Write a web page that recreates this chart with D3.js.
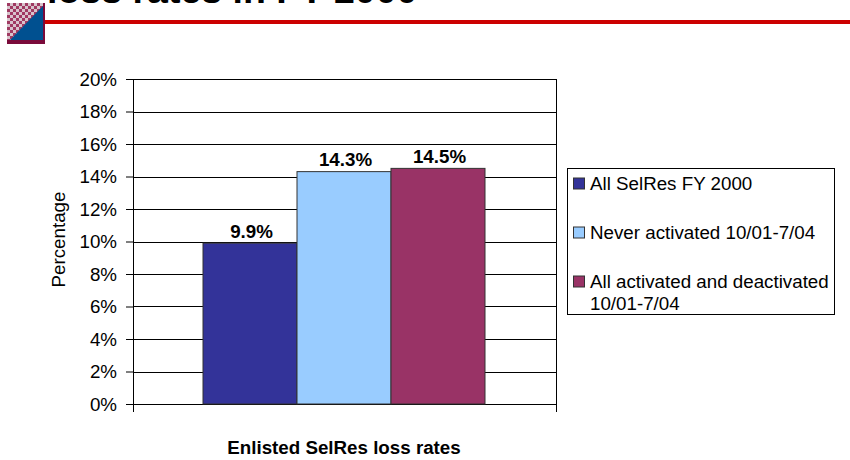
<!DOCTYPE html>
<html><head><meta charset="utf-8">
<script src="https://cdn.jsdelivr.net/npm/d3@7"></script>
<style>html,body{margin:0;padding:0;background:#fff}svg{display:block}text{font-family:"Liberation Sans",Arial,sans-serif;fill:#000}</style>
</head><body><div id="c"></div>
<script>
const categories=["All SelRes FY 2000","Never activated 10/01-7/04","All activated and deactivated 10/01-7/04"];
const values=[9.9,14.3,14.5];
const colors=["#333399","#99ccff","#993366"];
const valueLabels=["9.9%","14.3%","14.5%"];
const yTicks=[0,2,4,6,8,10,12,14,16,18,20];
const W=850,H=460;
const svg=d3.select("#c").append("svg").attr("width",W).attr("height",H);
const defs=svg.append("defs");
const pat=defs.append("pattern").attr("id","hatch").attr("width",6).attr("height",6).attr("patternUnits","userSpaceOnUse").attr("patternTransform","translate(7,3)");
pat.append("rect").attr("width",6).attr("height",6).attr("fill","#d8c4cc");
pat.append("rect").attr("width",3).attr("height",3).attr("fill","#a03a62");
pat.append("rect").attr("x",3).attr("y",3).attr("width",3).attr("height",3).attr("fill","#a03a62");

// header
svg.append("text").attr("x",47).attr("y",3).attr("font-size",37.5).attr("font-weight","bold").text("loss rates in FY 2000");
svg.append("rect").attr("x",44).attr("y",20).attr("width",806).attr("height",4).attr("fill","#cc0000");
svg.append("rect").attr("x",7).attr("y",3).attr("width",38).attr("height",41).attr("fill","#7a0a3a");
svg.append("rect").attr("x",7).attr("y",3).attr("width",36).attr("height",37).attr("fill","url(#hatch)");
svg.append("path").attr("d","M10 40L43 6V40Z").attr("fill","#005090");

const margin={l:133,r:294,t:79,b:56};
const y=d3.scaleLinear().domain([0,20]).range([H-margin.b,margin.t]);
const x1=d3.scaleBand().domain(categories).range([203,485]);

const g=svg.append("g");
g.append("g").attr("transform",`translate(${margin.l},0)`)
 .call(d3.axisLeft(y).tickValues(yTicks).tickFormat(d=>d+"%").tickSize(7).tickPadding(9))
 .call(a=>a.select(".domain").remove())
 .call(a=>a.selectAll("line").attr("stroke","#000"))
 .call(a=>a.selectAll("text").attr("font-size",18.75).attr("font-family","Liberation Sans, Arial, sans-serif"));
g.append("g").selectAll("line").data(yTicks).join("line")
 .attr("x1",margin.l).attr("x2",W-margin.r)
 .attr("y1",d=>Math.round(y(d))+.5).attr("y2",d=>Math.round(y(d))+.5)
 .attr("stroke","#000").attr("stroke-width",1);
g.append("line").attr("x1",margin.l+.5).attr("x2",margin.l+.5).attr("y1",margin.t).attr("y2",H-margin.b+8).attr("stroke","#000");
g.append("line").attr("x1",W-margin.r+.5).attr("x2",W-margin.r+.5).attr("y1",margin.t).attr("y2",H-margin.b+8).attr("stroke","#000");
g.append("g").selectAll("rect").data(categories).join("rect")
 .attr("x",d=>x1(d)).attr("width",x1.bandwidth())
 .attr("y",(d,i)=>y(values[i])).attr("height",(d,i)=>y(0)-y(values[i]))
 .attr("fill",(d,i)=>colors[i]).attr("stroke","#333").attr("stroke-width",1);
g.append("g").selectAll("text").data(categories).join("text")
 .attr("x",d=>x1(d)+x1.bandwidth()/2+1.5).attr("y",(d,i)=>y(values[i])-5.5)
 .attr("text-anchor","middle").attr("font-size",18.75).attr("font-weight","bold")
 .text((d,i)=>valueLabels[i]);
svg.append("text").attr("transform","translate(65,239.5) rotate(-90)").attr("text-anchor","middle").attr("font-size",18.75).text("Percentage");
svg.append("text").attr("x",344).attr("y",454).attr("text-anchor","middle").attr("font-size",18.75).attr("font-weight","bold").text("Enlisted SelRes loss rates");
const leg=svg.append("g");
leg.append("rect").attr("x",567.5).attr("y",168.5).attr("width",267).attr("height",146).attr("fill","#fff").attr("stroke","#000");
const legY=[183.5,232.5,281.5];
const legLines=[[categories[0]],[categories[1]],["All activated and deactivated","10/01-7/04"]];
categories.forEach((c,i)=>{
  leg.append("rect").attr("x",573.5).attr("y",legY[i]-5.5).attr("width",11).attr("height",11).attr("fill",colors[i]).attr("stroke","#333");
  legLines[i].forEach((t,j)=>leg.append("text").attr("x",590).attr("y",legY[i]+6.5+j*22).attr("font-size",18.75).text(t));
});
</script></body></html>
